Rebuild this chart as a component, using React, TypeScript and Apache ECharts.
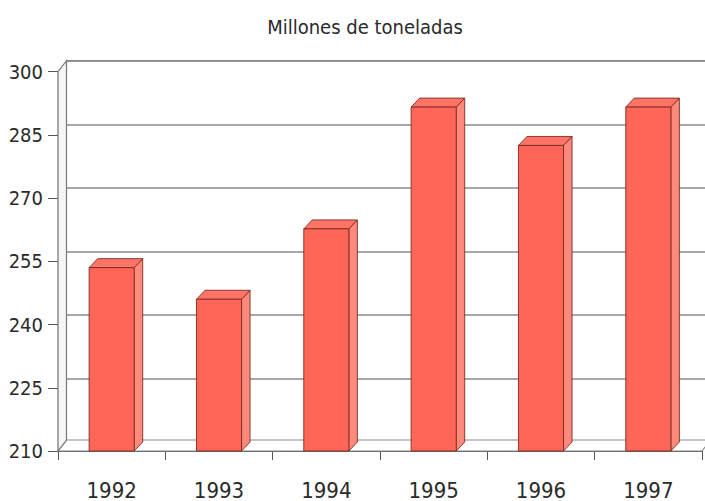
import { useEffect, useRef } from "react";
import * as echarts from "echarts";

// Annual tonnage, in millions of tonnes
const years = ["1992", "1993", "1994", "1995", "1996", "1997"];
const tonnage = [253.5, 246, 262.7, 291.6, 282.5, 291.6];
const yMin = 210;
const yMax = 300;
const yStep = 15;
const titleText = "Millones de toneladas";

// 3-D look: offset of the back wall and of each column's depth
const WALL_DX = 8.5;
const WALL_DY = -11;
const BAR_DX = 8.5;
const BAR_DY = -9;

const FONT = "'Liberation Sans Narrow', 'DejaVu Sans Condensed', 'Liberation Sans', sans-serif";

const GRID = { left: 58, top: 71.7, width: 644, height: 381.6 };

export default function App() {
  const ref = useRef<HTMLDivElement>(null);

  useEffect(() => {
    document.body.style.margin = "0";
    if (!ref.current) return;
    const chart = echarts.init(ref.current, null, { renderer: "svg" });

    const barData = years.map((_, i) => [i, tonnage[i]]);

    chart.setOption({
      animation: false,
      backgroundColor: "#ffffff",
      title: {
        text: titleText,
        left: 360,
        top: 12,
        textAlign: "center",
        textStyle: { fontFamily: FONT, fontSize: 20, fontWeight: "normal", color: "#2a2a2a" },
      },
      grid: [
        { ...GRID },
        {
          left: GRID.left + WALL_DX,
          top: GRID.top + WALL_DY,
          width: GRID.width,
          height: GRID.height,
        },
      ],
      xAxis: [
        {
          type: "category",
          gridIndex: 0,
          data: years,
          boundaryGap: true,
          axisLine: { show: true, lineStyle: { color: "#555", width: 1.2 } },
          axisTick: { show: true, length: 9, lineStyle: { color: "#555" } },
          axisLabel: { fontFamily: FONT, fontSize: 22, color: "#2a2a2a", margin: 28 },
        },
        {
          type: "category",
          gridIndex: 1,
          data: years,
          show: false,
        },
      ],
      yAxis: [
        {
          type: "value",
          gridIndex: 0,
          min: yMin,
          max: yMax,
          interval: yStep,
          axisLine: { show: true, lineStyle: { color: "#555", width: 1.2 } },
          axisTick: { show: true, length: 10, lineStyle: { color: "#555" } },
          axisLabel: { fontFamily: FONT, fontSize: 20, color: "#2a2a2a", margin: 15 },
          splitLine: { show: false },
        },
        {
          type: "value",
          gridIndex: 1,
          min: yMin,
          max: yMax,
          interval: yStep,
          axisLine: { show: false },
          axisTick: { show: false },
          axisLabel: { show: false },
          splitLine: { show: true, lineStyle: { color: "#8a8a8a", width: 1.5 } },
        },
      ],
      series: [
        {
          // side wall and floor of the box
          type: "custom",
          xAxisIndex: 0,
          yAxisIndex: 0,
          z: 1,
          silent: true,
          data: [0],
          renderItem: (params: any) => {
            const cs = params.coordSys;
            const x0 = cs.x;
            const x1 = cs.x + cs.width;
            const yT = cs.y;
            const yB = cs.y + cs.height;
            return {
              type: "group",
              children: [
                {
                  type: "polygon",
                  shape: {
                    points: [
                      [x0, yB],
                      [x1, yB],
                      [x1 + WALL_DX, yB + WALL_DY],
                      [x0 + WALL_DX, yB + WALL_DY],
                    ],
                  },
                  style: { fill: "#ffffff", stroke: "#8a8a8a", lineWidth: 1.2 },
                },
                {
                  type: "polygon",
                  shape: {
                    points: [
                      [x0, yB],
                      [x0, yT],
                      [x0 + WALL_DX, yT + WALL_DY],
                      [x0 + WALL_DX, yB + WALL_DY],
                    ],
                  },
                  style: { fill: "#f3f6f3", stroke: "#777", lineWidth: 1.2 },
                },
                {
                  type: "line",
                  shape: { x1: x0 + WALL_DX, y1: yT + WALL_DY, x2: x1 + WALL_DX, y2: yT + WALL_DY },
                  style: { stroke: "#8a8a8a", lineWidth: 1.5 },
                },
              ],
            };
          },
        },
        {
          // 3-D columns
          type: "custom",
          xAxisIndex: 0,
          yAxisIndex: 0,
          z: 3,
          data: barData,
          encode: { x: 0, y: 1 },
          renderItem: (_params: any, api: any) => {
            const idx = api.value(0);
            const top = api.coord([idx, api.value(1)]);
            const base = api.coord([idx, yMin]);
            const w = api.size([1, 0])[0] * 0.42;
            const l = top[0] - w / 2;
            const r = top[0] + w / 2;
            const yt = top[1];
            const yb = base[1];
            const edge = { stroke: "#7a2c22", lineWidth: 0.9 };
            return {
              type: "group",
              children: [
                {
                  type: "polygon",
                  shape: {
                    points: [
                      [r, yt],
                      [r + BAR_DX, yt + BAR_DY],
                      [r + BAR_DX, yb + BAR_DY],
                      [r, yb],
                    ],
                  },
                  style: { fill: "#ff8a7c", ...edge },
                },
                {
                  type: "polygon",
                  shape: {
                    points: [
                      [l, yt],
                      [l + BAR_DX, yt + BAR_DY],
                      [r + BAR_DX, yt + BAR_DY],
                      [r, yt],
                    ],
                  },
                  style: { fill: "#ff7466", ...edge },
                },
                {
                  type: "rect",
                  shape: { x: l, y: yt, width: w, height: yb - yt },
                  style: { fill: "#ff6657", ...edge },
                },
              ],
            };
          },
        },
      ],
    });

    return () => chart.dispose();
  }, []);

  return <div ref={ref} style={{ width: 705, height: 501 }} />;
}
